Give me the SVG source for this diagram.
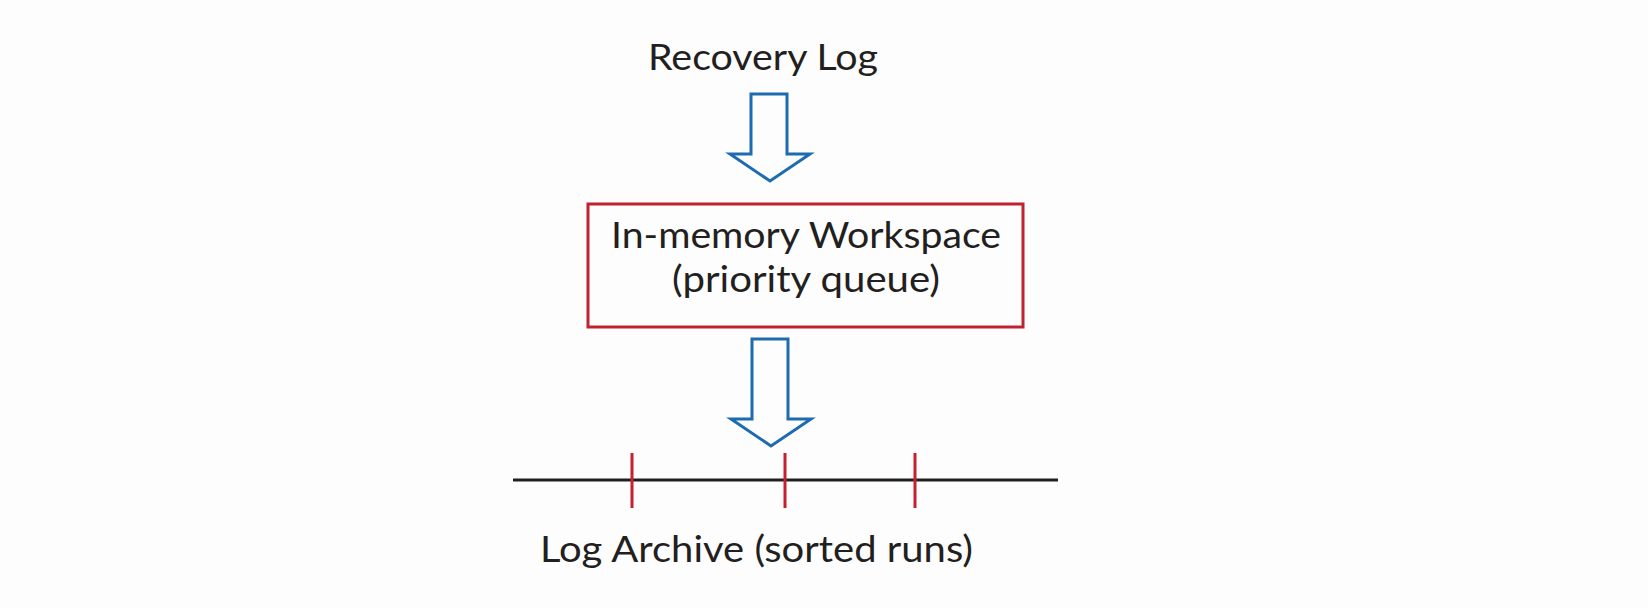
<svg xmlns="http://www.w3.org/2000/svg" width="1648" height="608" viewBox="0 0 1648 608">
<style>
.t{font-family:Lato,"Open Sans","Liberation Sans",sans-serif;font-size:36px;fill:#231f20;text-anchor:middle}
.arrow{fill:#fdfdfd;stroke:#1d6bb0;stroke-width:3;stroke-linejoin:miter}
.box{fill:none;stroke:#c0232f;stroke-width:3}
.axis{stroke:#231f20;stroke-width:3}
.tick{stroke:#c4202e;stroke-width:3}
</style>
<rect width="1648" height="608" fill="#fdfdfd"/>
<g id="recovery-log">
<text class="t" x="763" y="70" textLength="230" lengthAdjust="spacingAndGlyphs">Recovery Log</text>
</g>
<g id="workspace">
<rect class="box" x="588" y="204" width="435" height="123"/>
<text class="t" x="806" y="248" textLength="390" lengthAdjust="spacingAndGlyphs">In-memory Workspace</text>
<text class="t" x="806" y="292" textLength="268" lengthAdjust="spacingAndGlyphs">(priority queue)</text>
</g>
<g id="log-archive">
<line class="axis" x1="513" y1="480" x2="1058" y2="480"/>
<line class="tick" x1="632" y1="453" x2="632" y2="508"/>
<line class="tick" x1="785" y1="453" x2="785" y2="508"/>
<line class="tick" x1="915" y1="453" x2="915" y2="508"/>
<text class="t" x="756.5" y="562" textLength="433" lengthAdjust="spacingAndGlyphs">Log Archive (sorted runs)</text>
</g>
<g id="connectors">
<path class="arrow" d="M751,94 H787 V154 H810 L770,181 L730,154 H751 Z"/>
<path class="arrow" d="M752,339 H788 V419 H811 L771,446 L731,419 H752 Z"/>
</g>
</svg>
